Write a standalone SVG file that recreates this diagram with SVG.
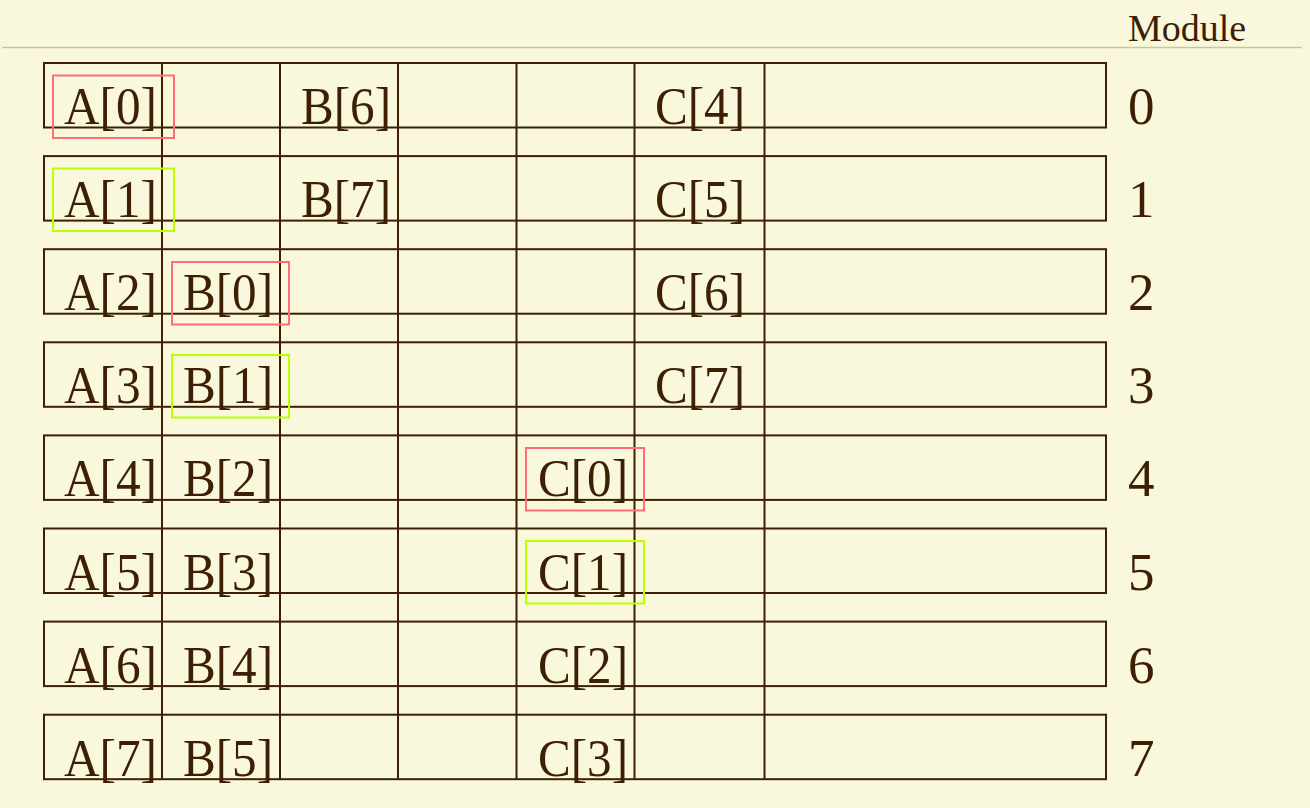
<svg xmlns="http://www.w3.org/2000/svg" width="1310" height="808" viewBox="0 0 1310 808">
<style>
.bg{fill:#faf8dc}
.row{fill:none;stroke:#3d1f04;stroke-width:2}
.vl{stroke:#3d1f04;stroke-width:2}
.sep{stroke:#cfc2a0;stroke-width:1.5}
.t{font-family:"Liberation Serif","Times New Roman",serif;font-size:53px;fill:#3d1f04}
.h{font-family:"Liberation Serif","Times New Roman",serif;font-size:38px;fill:#3d1f04}
.red{fill:none;stroke:#ff6e74;stroke-width:2}
.grn{fill:none;stroke:#bcff00;stroke-width:2}
</style>
<rect class="bg" x="0" y="0" width="1310" height="808"/>
<line class="sep" x1="2" y1="47.5" x2="1302" y2="47.5"/>
<text class="h" x="1128" y="41">Module</text>
<g id="rows">
<rect class="row" x="44" y="63" width="1062" height="64.5"/>
<rect class="row" x="44" y="156.1" width="1062" height="64.5"/>
<rect class="row" x="44" y="249.2" width="1062" height="64.5"/>
<rect class="row" x="44" y="342.3" width="1062" height="64.5"/>
<rect class="row" x="44" y="435.4" width="1062" height="64.5"/>
<rect class="row" x="44" y="528.5" width="1062" height="64.5"/>
<rect class="row" x="44" y="621.6" width="1062" height="64.5"/>
<rect class="row" x="44" y="714.7" width="1062" height="64.5"/>
</g>
<g id="columns">
<line class="vl" x1="162" y1="63" x2="162" y2="779.2"/>
<line class="vl" x1="280" y1="63" x2="280" y2="779.2"/>
<line class="vl" x1="398" y1="63" x2="398" y2="779.2"/>
<line class="vl" x1="516.5" y1="63" x2="516.5" y2="779.2"/>
<line class="vl" x1="634.5" y1="63" x2="634.5" y2="779.2"/>
<line class="vl" x1="764.5" y1="63" x2="764.5" y2="779.2"/>
</g>
<g id="labels">
<text class="t" x="64" y="124" textLength="93" lengthAdjust="spacingAndGlyphs">A[0]</text>
<text class="t" x="301" y="124" textLength="90" lengthAdjust="spacingAndGlyphs">B[6]</text>
<text class="t" x="655" y="124" textLength="90" lengthAdjust="spacingAndGlyphs">C[4]</text>
<text class="t" x="64" y="217.1" textLength="93" lengthAdjust="spacingAndGlyphs">A[1]</text>
<text class="t" x="301" y="217.1" textLength="90" lengthAdjust="spacingAndGlyphs">B[7]</text>
<text class="t" x="655" y="217.1" textLength="90" lengthAdjust="spacingAndGlyphs">C[5]</text>
<text class="t" x="64" y="310.2" textLength="93" lengthAdjust="spacingAndGlyphs">A[2]</text>
<text class="t" x="183" y="310.2" textLength="90" lengthAdjust="spacingAndGlyphs">B[0]</text>
<text class="t" x="655" y="310.2" textLength="90" lengthAdjust="spacingAndGlyphs">C[6]</text>
<text class="t" x="64" y="403.3" textLength="93" lengthAdjust="spacingAndGlyphs">A[3]</text>
<text class="t" x="183" y="403.3" textLength="90" lengthAdjust="spacingAndGlyphs">B[1]</text>
<text class="t" x="655" y="403.3" textLength="90" lengthAdjust="spacingAndGlyphs">C[7]</text>
<text class="t" x="64" y="496.4" textLength="93" lengthAdjust="spacingAndGlyphs">A[4]</text>
<text class="t" x="183" y="496.4" textLength="90" lengthAdjust="spacingAndGlyphs">B[2]</text>
<text class="t" x="538" y="496.4" textLength="90" lengthAdjust="spacingAndGlyphs">C[0]</text>
<text class="t" x="64" y="589.5" textLength="93" lengthAdjust="spacingAndGlyphs">A[5]</text>
<text class="t" x="183" y="589.5" textLength="90" lengthAdjust="spacingAndGlyphs">B[3]</text>
<text class="t" x="538" y="589.5" textLength="90" lengthAdjust="spacingAndGlyphs">C[1]</text>
<text class="t" x="64" y="682.6" textLength="93" lengthAdjust="spacingAndGlyphs">A[6]</text>
<text class="t" x="183" y="682.6" textLength="90" lengthAdjust="spacingAndGlyphs">B[4]</text>
<text class="t" x="538" y="682.6" textLength="90" lengthAdjust="spacingAndGlyphs">C[2]</text>
<text class="t" x="64" y="775.7" textLength="93" lengthAdjust="spacingAndGlyphs">A[7]</text>
<text class="t" x="183" y="775.7" textLength="90" lengthAdjust="spacingAndGlyphs">B[5]</text>
<text class="t" x="538" y="775.7" textLength="90" lengthAdjust="spacingAndGlyphs">C[3]</text>
</g>
<g id="modules">
<text class="t" x="1128" y="124">0</text>
<text class="t" x="1128" y="217.1">1</text>
<text class="t" x="1128" y="310.2">2</text>
<text class="t" x="1128" y="403.3">3</text>
<text class="t" x="1128" y="496.4">4</text>
<text class="t" x="1128" y="589.5">5</text>
<text class="t" x="1128" y="682.6">6</text>
<text class="t" x="1128" y="775.7">7</text>
</g>
<g id="highlights">
<rect class="red" x="53" y="75.5" width="121" height="62.5"/>
<rect class="grn" x="53" y="168.5" width="121" height="62.5"/>
<rect class="red" x="172" y="262" width="117" height="62.5"/>
<rect class="grn" x="172" y="355" width="117" height="62.5"/>
<rect class="red" x="526" y="448" width="118" height="62.5"/>
<rect class="grn" x="526" y="541" width="118" height="62.5"/>
</g>
</svg>
